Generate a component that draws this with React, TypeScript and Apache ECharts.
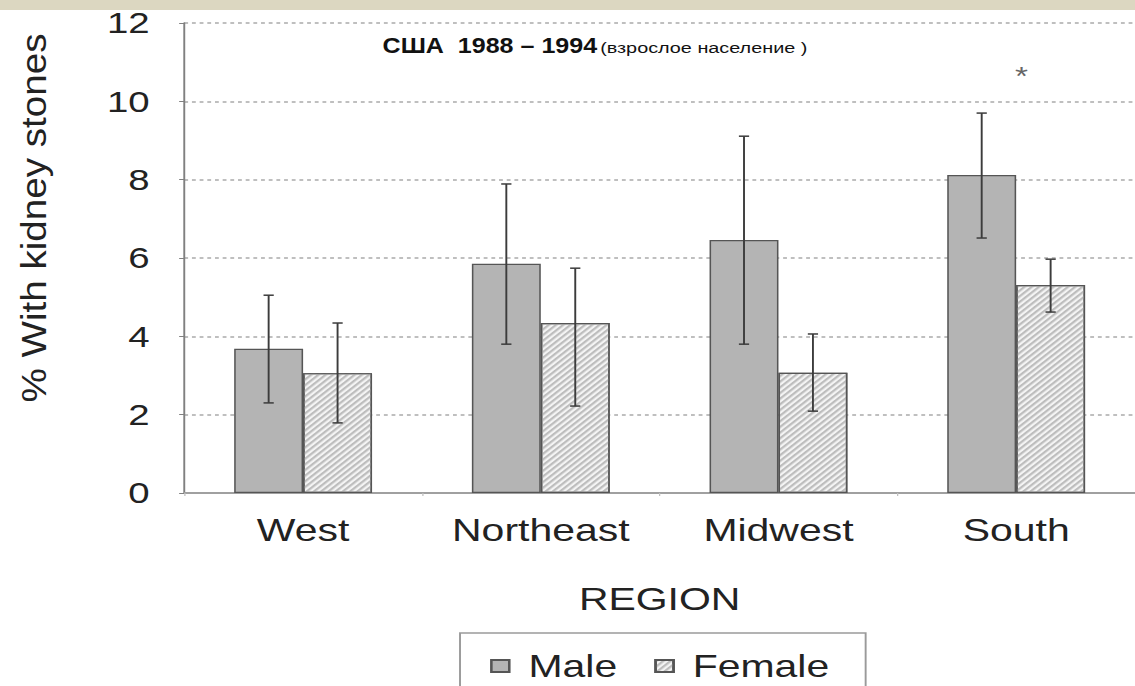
import React, { useEffect, useRef } from "react";
import * as echarts from "echarts";

const categories = ["West", "Northeast", "Midwest", "South"];
const seriesNames = ["Male", "Female"];
const maleValues = [3.68, 5.85, 6.46, 8.12];
const femaleValues = [3.06, 4.34, 3.07, 5.31];
const maleLow = [2.3, 3.8, 3.8, 6.51];
const maleHigh = [5.05, 7.89, 9.11, 9.7];
const femaleLow = [1.79, 2.22, 2.09, 4.62];
const femaleHigh = [4.34, 5.74, 4.06, 5.97];
const yMin = 0;
const yMax = 12;
const yInterval = 2;
const titleMain = "США  1988 – 1994";
const titleSub = "(взрослое население )";
const yAxisTitle = "% With kidney stones";
const xAxisTitle = "REGION";
const significance = { category: "South", value: 10.54, mark: "*" };

const FULL_W = 1135;
const H = 686;
const STRETCH = 1.28;
const W = Math.round(FULL_W / STRETCH);
const FONT = "'Liberation Sans', Arial, sans-serif";

function makeErrorRenderer(sign: number) {
  return (params: any, api: any) => {
    const idx = api.value(0);
    const lo = api.coord([idx, api.value(1)]);
    const hi = api.coord([idx, api.value(2)]);
    const band = api.size([1, 0])[0];
    const x = lo[0] + sign * band * 0.145;
    const cap = 4;
    const style = { stroke: "#3c3c3c", lineWidth: 1.5 };
    return {
      type: "group",
      children: [
        { type: "line", shape: { x1: x, y1: hi[1], x2: x, y2: lo[1] }, style },
        { type: "line", shape: { x1: x - cap, y1: hi[1], x2: x + cap, y2: hi[1] }, style },
        { type: "line", shape: { x1: x - cap, y1: lo[1], x2: x + cap, y2: lo[1] }, style },
      ],
    };
  };
}

export default function App() {
  const ref = useRef<HTMLDivElement>(null);
  useEffect(() => {
    if (!ref.current) return;
    const chart = echarts.init(ref.current, undefined, { renderer: "svg" });
    const maleErr = categories.map((_, i) => [i, maleLow[i], maleHigh[i]]);
    const femaleErr = categories.map((_, i) => [i, femaleLow[i], femaleHigh[i]]);
    chart.setOption({
      animation: false,
      backgroundColor: "#ffffff",
      textStyle: { fontFamily: FONT, color: "#222" },
      grid: { left: 144, right: 0, top: 23, bottom: H - 493, containLabel: false },
      legend: {
        data: seriesNames,
        left: 378,
        top: 645,
        icon: "rect",
        itemWidth: 14,
        itemHeight: 12,
        itemGap: 29,
        textStyle: { fontSize: 32, lineHeight: 30, color: "#222", fontFamily: FONT, padding: [0, 0, 0, 10] },
      },
      xAxis: {
        type: "category",
        data: categories,
        name: xAxisTitle,
        nameLocation: "middle",
        nameGap: 90,
        nameTextStyle: { fontSize: 32, color: "#222", fontFamily: FONT },
        axisLine: { lineStyle: { color: "#a0a0a0", width: 2 } },
        axisTick: { show: true, length: 3, lineStyle: { color: "#c0c0c0" } },
        axisLabel: { fontSize: 32, color: "#222", margin: 21, fontFamily: FONT },
        splitLine: { show: false },
      },
      yAxis: {
        type: "value",
        min: yMin,
        max: yMax,
        interval: yInterval,
        axisLine: { show: true, lineStyle: { color: "#808080", width: 1.5 } },
        axisTick: { show: true, length: 4, lineStyle: { color: "#808080" } },
        axisLabel: { fontSize: 30, color: "#222", margin: 27, fontFamily: FONT },
        splitLine: { show: true, lineStyle: { color: "#aaaaaa", width: 1.5, type: [3, 3] } },
      },
      graphic: [
        { type: "rect", shape: { x: 0, y: 0, width: W, height: 10 }, style: { fill: "#dcd7c1" }, silent: true },
        {
          type: "text",
          x: 299,
          y: 46,
          scaleX: 0.89,
          style: { text: titleMain, fontSize: 22, fontWeight: "bold", fontFamily: FONT, fill: "#111", verticalAlign: "middle", align: "left" },
        },
        {
          type: "text",
          x: 469,
          y: 48,
          style: { text: titleSub, fontSize: 15.5, fontFamily: FONT, fill: "#111", verticalAlign: "middle", align: "left" },
        },
        {
          type: "text",
          x: 27,
          y: 218,
          rotation: Math.PI / 2,
          scaleX: 1.43,
          style: { text: yAxisTitle, fontSize: 27, fontFamily: FONT, fill: "#222", align: "center", verticalAlign: "middle" },
        },
        {
          type: "rect",
          shape: { x: 359.5, y: 633, width: 317, height: 90 },
          style: { fill: "none", stroke: "#9a9a9a", lineWidth: 1.5 },
          silent: true,
        },
      ],
      series: [
        {
          name: seriesNames[0],
          type: "bar",
          data: maleValues,
          barGap: "0%",
          barCategoryGap: "42%",
          itemStyle: { color: "#b4b4b4", borderColor: "#555", borderWidth: 1.2 },
          markPoint: {
            symbol: "circle",
            symbolSize: 0,
            label: { show: true, formatter: significance.mark, fontSize: 26, color: "#666", offset: [31, -4] },
            data: [{ coord: [significance.category, significance.value] }],
          },
          z: 2,
        },
        {
          name: seriesNames[1],
          type: "bar",
          data: femaleValues,
          barGap: "0%",
          barCategoryGap: "42%",
          itemStyle: {
            color: "#f4f4f4",
            borderColor: "#555",
            borderWidth: 1.2,
            decal: {
              symbol: "rect",
              symbolSize: 1,
              color: "#bdbdbd",
              dashArrayX: [1, 0],
              dashArrayY: [1.2, 2],
              rotation: -Math.PI / 4,
            },
          },
          z: 2,
        },
        {
          name: "Male error",
          type: "custom",
          renderItem: makeErrorRenderer(-1),
          data: maleErr,
          encode: { x: 0, y: [1, 2] },
          z: 5,
          silent: true,
        },
        {
          name: "Female error",
          type: "custom",
          renderItem: makeErrorRenderer(1),
          data: femaleErr,
          encode: { x: 0, y: [1, 2] },
          z: 5,
          silent: true,
        },
      ],
    });
    return () => chart.dispose();
  }, []);
  return (
    <div style={{ position: "fixed", left: 0, top: 0, width: FULL_W, height: H, overflow: "hidden", background: "#fff" }}>
      <div
        ref={ref}
        style={{ width: W, height: H, transform: `scaleX(${FULL_W / W})`, transformOrigin: "0 0" }}
      />
    </div>
  );
}
